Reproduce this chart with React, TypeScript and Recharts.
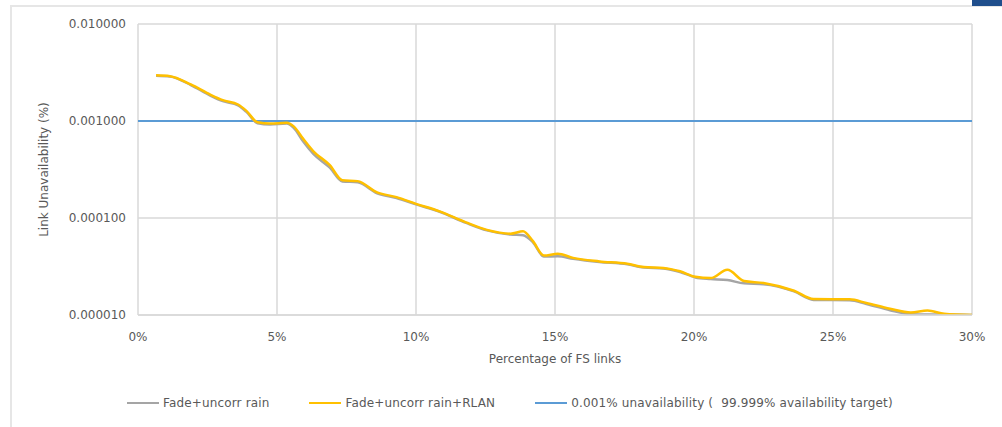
import { LineChart, Line, XAxis, YAxis, CartesianGrid } from "recharts";

// percentage of FS links (x)
const pct = [
  0.65, 1.15, 1.9, 2.6, 3.05, 3.6, 3.9, 4.3, 4.75, 5.35, 5.6, 5.95, 6.3, 6.9,
  7.35, 7.9, 8.6, 9.3, 10.0, 10.85, 11.8, 12.55, 13.4, 13.85, 14.2, 14.6, 15.1,
  15.65, 16.6, 17.6, 18.2, 18.9, 19.5, 20.05, 20.6, 21.2, 21.8, 22.5, 23.6,
  24.3, 25.6, 26.2, 27.05, 27.8, 28.4, 29.0, 30.0,
];

// link unavailability (%) - Fade+uncorr rain
const fadeRain = [
  0.00293, 0.00287, 0.00235, 0.00183, 0.0016, 0.00145, 0.00124, 0.00095,
  0.00092, 0.00094, 0.00085, 0.00061, 0.00046, 0.00033, 0.000238, 0.000234,
  0.00018, 0.000161, 0.000138, 0.000116, 0.000089, 0.0000745, 0.0000675,
  0.0000665, 0.0000565, 0.00004, 0.0000403, 0.000038, 0.0000352, 0.0000333,
  0.0000308, 0.0000302, 0.0000278, 0.0000244, 0.0000235, 0.0000229, 0.0000212,
  0.0000208, 0.0000175, 0.0000143, 0.0000142, 0.000013, 0.0000112, 0.0000102,
  0.0000101, 0.0000101, 0.00001,
];

// link unavailability (%) - Fade+uncorr rain+RLAN
const fadeRainRlan = [
  0.00296, 0.0029, 0.00238, 0.00187, 0.00164, 0.00148, 0.00127, 0.00097,
  0.00094, 0.00096, 0.00088, 0.00065, 0.00049, 0.00035, 0.000245, 0.00024,
  0.000184, 0.000164, 0.00014, 0.000117, 0.00009, 0.0000755, 0.000069,
  0.000073, 0.000058, 0.000041, 0.0000428, 0.0000388, 0.0000357, 0.0000338,
  0.0000312, 0.0000306, 0.0000282, 0.0000248, 0.000024, 0.0000292, 0.0000224,
  0.0000214, 0.0000178, 0.0000146, 0.0000145, 0.0000133, 0.0000116, 0.0000106,
  0.0000111, 0.0000103, 0.00001,
];

const target = 0.001;

const xTicks = [0, 5, 10, 15, 20, 25, 30];
const yTicks = [0.00001, 0.0001, 0.001, 0.01];

const series = [
  { key: "fade", name: "Fade+uncorr rain", color: "#A5A5A5" },
  { key: "rlan", name: "Fade+uncorr rain+RLAN", color: "#FFC000" },
  {
    key: "target",
    name: "0.001% unavailability (  99.999% availability target)",
    color: "#5B9BD5",
  },
];

const data = [
  { pct: 0, target },
  ...pct.map((p, i) => ({
    pct: p,
    fade: fadeRain[i],
    rlan: fadeRainRlan[i],
    target,
  })),
];

const font = "'DejaVu Sans', sans-serif";
const textColor = "#595959";

export default function App() {
  return (
    <div
      style={{
        position: "absolute",
        left: 0,
        top: 0,
        width: 1002,
        height: 427,
        background: "#fff",
        fontFamily: font,
        overflow: "hidden",
      }}
    >
      {/* frame of the slide */}
      <div
        style={{
          position: "absolute",
          left: 10,
          top: 5,
          width: 1000,
          height: 430,
          borderTop: "2px solid #E6E6E6",
          borderLeft: "2px solid #E6E6E6",
        }}
      />
      <div
        style={{
          position: "absolute",
          left: 972,
          top: 0,
          width: 30,
          height: 6,
          background: "#1F4E8C",
        }}
      />
      <LineChart
        width={1002}
        height={427}
        data={data}
        margin={{ top: 24, right: 30, left: 0, bottom: 82 }}
        style={{ position: "absolute", left: 0, top: 0 }}
      >
        <CartesianGrid stroke="#D9D9D9" strokeWidth={1.5} />
        <XAxis
          dataKey="pct"
          type="number"
          domain={[0, 30]}
          ticks={xTicks}
          tickFormatter={(v) => `${v}%`}
          height={30}
          tickLine={false}
          axisLine={{ stroke: "#D9D9D9", strokeWidth: 1.5 }}
          tickSize={0}
          tickMargin={17}
          tick={{ fill: textColor, fontSize: 12, fontFamily: font }}
          label={{
            value: "Percentage of FS links",
            position: "bottom",
            offset: 9,
            fill: textColor,
            fontSize: 12,
            fontFamily: font,
          }}
        />
        <YAxis
          scale="log"
          domain={[0.00001, 0.01]}
          ticks={yTicks}
          allowDataOverflow
          width={138}
          tickLine={false}
          axisLine={false}
          tickSize={0}
          tickMargin={12}
          tickFormatter={(v) => Number(v).toFixed(6)}
          tick={{ fill: textColor, fontSize: 12, fontFamily: font }}
          label={{
            content: (props: any) => {
              const vb = props.viewBox || {};
              const cy = (vb.y ?? 24) + (vb.height ?? 291) / 2;
              return (
                <text
                  x={44}
                  y={cy}
                  transform={`rotate(-90, 44, ${cy})`}
                  textAnchor="middle"
                  dominantBaseline="central"
                  fill={textColor}
                  fontSize={12}
                  fontFamily={font}
                >
                  Link Unavailability (%)
                </text>
              );
            },
          }}
        />
        <Line
          dataKey="target"
          name={series[2].name}
          stroke={series[2].color}
          strokeWidth={2}
          dot={false}
          type="linear"
          isAnimationActive={false}
        />
        <Line
          dataKey="fade"
          name={series[0].name}
          stroke={series[0].color}
          strokeWidth={2.5}
          dot={false}
          type="monotone"
          isAnimationActive={false}
        />
        <Line
          dataKey="rlan"
          name={series[1].name}
          stroke={series[1].color}
          strokeWidth={2.5}
          dot={false}
          type="monotone"
          isAnimationActive={false}
        />
      </LineChart>
      <div
        style={{
          position: "absolute",
          left: 127,
          top: 396,
          display: "flex",
          alignItems: "center",
          gap: 40,
          fontSize: 12,
          letterSpacing: 0.15,
          color: textColor,
          whiteSpace: "pre",
        }}
      >
        {series.map((s) => (
          <div key={s.key} style={{ display: "flex", alignItems: "center" }}>
            <span
              style={{
                display: "inline-block",
                width: 32,
                height: 2,
                background: s.color,
                marginRight: 4,
              }}
            />
            <span>{s.name}</span>
          </div>
        ))}
      </div>
    </div>
  );
}
